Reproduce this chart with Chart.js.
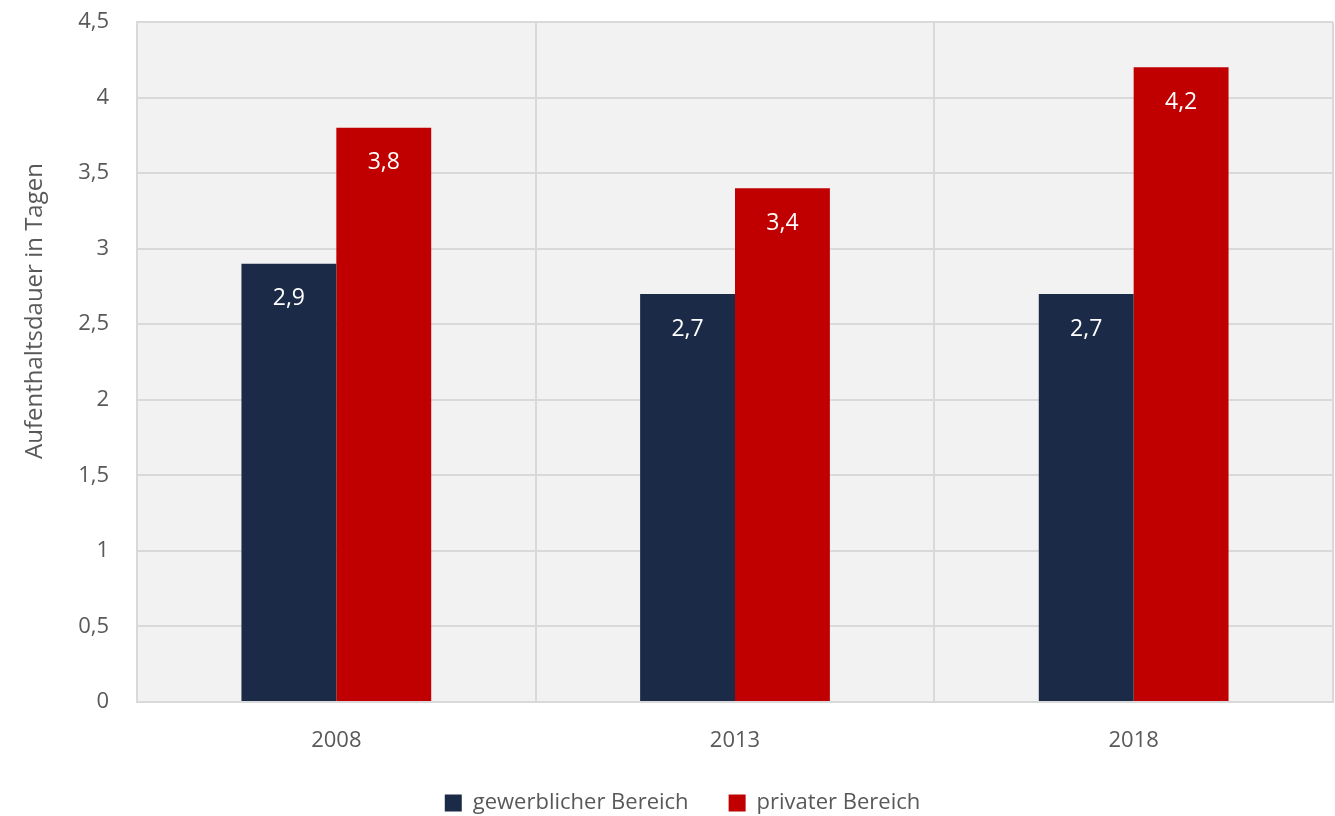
<!DOCTYPE html>
<html>

<head>
    <title>Aufenthaltsdauer</title>
    <meta charset="utf-8">
    <script src="https://cdn.jsdelivr.net/npm/chart.js"></script>
    <style>
        body { margin: 0; background: #fff; }
        #wrap { width: 1335px; height: 816px; }
    </style>
</head>

<body>
    <div id="wrap">
        <canvas id="barChart"></canvas>
    </div>

    <script>
        var years = ["2008", "2013", "2018"];
        var gewerblich = [2.9, 2.7, 2.7];
        var privat = [3.8, 3.4, 4.2];
        var yTicks = [0, 0.5, 1, 1.5, 2, 2.5, 3, 3.5, 4, 4.5];

        var FONT = "'Open Sans', sans-serif";
        var GREY = "#595959";

        function komma(v) {
            return String(v).replace(".", ",");
        }

        // grey plot background
        var plotBg = {
            id: "plotBg",
            beforeDraw: function (chart) {
                var a = chart.chartArea, ctx = chart.ctx;
                ctx.save();
                ctx.fillStyle = "#f2f2f2";
                ctx.fillRect(a.left, a.top, a.right - a.left, a.bottom - a.top);
                ctx.restore();
            }
        };

        // legend in the original sits a little right of the middle
        var legendShift = {
            id: "legendShift",
            afterLayout: function (chart) {
                chart.legend.left += 16;
                chart.legend.right += 16;
            }
        };

        // white values inside top of bars
        var barValues = {
            id: "barValues",
            afterDatasetsDraw: function (chart) {
                var ctx = chart.ctx;
                ctx.save();
                ctx.font = "23px " + FONT;
                ctx.fillStyle = "#ffffff";
                ctx.textAlign = "center";
                ctx.textBaseline = "middle";
                chart.data.datasets.forEach(function (ds, i) {
                    chart.getDatasetMeta(i).data.forEach(function (bar, j) {
                        ctx.fillText(komma(ds.data[j]), bar.x, bar.y + 35);
                    });
                });
                ctx.restore();
            }
        };

        // y axis title, sits a bit above the middle like in the original
        var yTitle = {
            id: "yTitle",
            afterDraw: function (chart) {
                var ctx = chart.ctx;
                ctx.save();
                ctx.translate(35, 311);
                ctx.rotate(-Math.PI / 2);
                ctx.font = "24px " + FONT;
                ctx.fillStyle = GREY;
                ctx.textAlign = "center";
                ctx.textBaseline = "middle";
                ctx.fillText("Aufenthaltsdauer in Tagen", 0, 0);
                ctx.restore();
            }
        };

        new Chart("barChart", {
            type: "bar",
            data: {
                labels: years,
                datasets: [{
                    label: "gewerblicher Bereich",
                    backgroundColor: "#1b2a46",
                    data: gewerblich
                }, {
                    label: "privater Bereich",
                    backgroundColor: "#c00000",
                    data: privat
                }]
            },
            options: {
                responsive: true,
                maintainAspectRatio: false,
                animation: false,
                datasets: {
                    bar: { categoryPercentage: 0.476, barPercentage: 1.0 }
                },
                layout: { padding: { top: 22, right: 2, left: 0, bottom: -8 } },
                plugins: {
                    tooltip: { enabled: false },
                    legend: {
                        position: "bottom",
                        labels: {
                            font: { family: FONT, size: 22 },
                            color: GREY,
                            boxWidth: 17,
                            boxHeight: 17,
                            padding: 40
                        }
                    }
                },
                scales: {
                    x: {
                        grid: { color: "#d9d9d9", lineWidth: 2, drawTicks: false, offset: true },
                        border: { color: "#d9d9d9", width: 2 },
                        ticks: { font: { family: FONT, size: 22, lineHeight: 1 }, color: GREY, padding: 28 },
                        afterFit: function (s) {
                            s.height = 50;
                            s.paddingLeft = 0;
                            s.paddingRight = 0;
                        }
                    },
                    y: {
                        min: 0,
                        max: 4.5,
                        afterBuildTicks: function (s) {
                            s.ticks = yTicks.map(function (v) { return { value: v }; });
                        },
                        grid: { color: "#d9d9d9", lineWidth: 2, drawTicks: false },
                        border: { color: "#d9d9d9", width: 2 },
                        ticks: {
                            font: { family: FONT, size: 22 },
                            color: GREY,
                            padding: 28,
                            callback: function (v) { return komma(v); }
                        },
                        afterFit: function (s) {
                            s.width = 137;
                            s.paddingTop = 0;
                            s.paddingBottom = 0;
                        }
                    }
                }
            },
            plugins: [plotBg, legendShift, barValues, yTitle]
        });
    </script>
</body>

</html>
